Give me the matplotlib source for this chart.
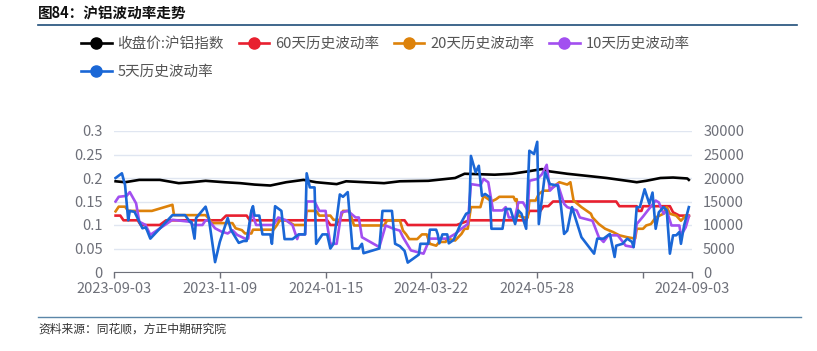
import matplotlib
matplotlib.use("Agg")
import matplotlib.pyplot as plt
from matplotlib.lines import Line2D
import pandas as pd

plt.rcParams['font.family'] = ['Noto Sans CJK SC', 'DejaVu Sans']

# 收盘价:沪铝指数 (right axis)
close_dates = ["2023-09-04", "2023-09-10", "2023-09-19", "2023-10-02", "2023-10-14", "2023-10-22",
               "2023-10-31", "2023-11-12", "2023-11-22", "2023-12-01", "2023-12-11", "2023-12-21",
               "2024-01-01", "2024-01-09", "2024-01-22", "2024-01-28", "2024-02-09", "2024-02-21",
               "2024-03-02", "2024-03-20", "2024-04-06", "2024-04-12", "2024-04-22", "2024-05-01",
               "2024-05-12", "2024-05-22", "2024-05-31", "2024-06-05", "2024-06-16", "2024-06-30",
               "2024-07-11", "2024-07-26", "2024-07-30", "2024-08-05", "2024-08-14", "2024-08-22",
               "2024-08-31", "2024-09-01"]
close_vals = [19300, 19100, 19600, 19600, 18900, 19100,
              19400, 19100, 18900, 18600, 18400, 19100,
              19600, 19100, 18700, 19300, 19100, 18900,
              19300, 19400, 20000, 20900, 20800, 20700,
              20900, 21400, 21900, 21400, 20900, 20400,
              20000, 19300, 19100, 19400, 20000, 20100,
              19900, 19600]

# 60天历史波动率
vol60_dates = ["2023-09-04", "2023-09-07", "2023-09-09", "2023-09-18", "2023-09-20", "2023-10-02",
               "2023-10-06", "2023-11-10", "2023-11-13", "2023-11-26", "2023-11-28", "2024-01-16",
               "2024-01-18", "2024-01-22", "2024-01-23", "2024-03-05", "2024-03-07", "2024-04-07",
               "2024-04-15", "2024-05-21", "2024-05-23", "2024-05-30", "2024-06-01", "2024-06-04",
               "2024-06-07", "2024-07-17", "2024-07-19", "2024-07-30", "2024-07-31", "2024-08-02",
               "2024-08-03", "2024-08-20", "2024-08-22", "2024-08-26", "2024-09-01"]
vol60_vals = [0.12, 0.12, 0.11, 0.11, 0.10, 0.10,
              0.11, 0.11, 0.12, 0.12, 0.11, 0.11,
              0.10, 0.10, 0.11, 0.11, 0.10, 0.10,
              0.11, 0.11, 0.13, 0.13, 0.14, 0.14,
              0.15, 0.15, 0.14, 0.14, 0.13, 0.13,
              0.14, 0.14, 0.127, 0.12, 0.12]

# 20天历史波动率
vol20_dates = ["2023-09-04", "2023-09-06", "2023-09-10", "2023-09-12", "2023-09-27", "2023-10-10",
               "2023-10-11", "2023-10-31", "2023-11-02", "2023-11-04", "2023-11-17", "2023-11-19",
               "2023-11-23", "2023-11-25", "2023-11-29", "2023-11-30", "2023-12-13", "2023-12-15",
               "2023-12-17", "2023-12-21", "2023-12-26", "2024-01-02", "2024-01-03", "2024-01-09",
               "2024-01-11", "2024-01-18", "2024-01-20", "2024-01-24", "2024-01-26", "2024-01-30",
               "2024-02-02", "2024-02-21", "2024-02-23", "2024-03-02", "2024-03-04", "2024-03-06",
               "2024-03-08", "2024-03-13", "2024-03-16", "2024-03-19", "2024-03-21", "2024-03-25",
               "2024-03-27", "2024-03-31", "2024-04-01", "2024-04-06", "2024-04-10", "2024-04-12",
               "2024-04-14", "2024-04-16", "2024-04-22", "2024-04-24", "2024-04-27", "2024-04-29",
               "2024-05-02", "2024-05-04", "2024-05-13", "2024-05-14", "2024-05-15", "2024-05-16",
               "2024-05-19", "2024-05-22", "2024-05-23", "2024-05-27", "2024-05-29", "2024-06-01",
               "2024-06-04", "2024-06-09", "2024-06-11", "2024-06-16", "2024-06-18", "2024-06-20",
               "2024-06-25", "2024-06-28", "2024-07-01", "2024-07-02", "2024-07-06", "2024-07-10",
               "2024-07-15", "2024-07-19", "2024-07-24", "2024-07-29", "2024-07-30", "2024-08-03",
               "2024-08-05", "2024-08-08", "2024-08-11", "2024-08-16", "2024-08-18", "2024-08-20",
               "2024-08-24", "2024-08-27", "2024-08-30", "2024-09-01"]
vol20_vals = [0.129, 0.139, 0.139, 0.13, 0.13, 0.143,
              0.121, 0.121, 0.114, 0.104, 0.104, 0.093,
              0.089, 0.082, 0.082, 0.09, 0.09, 0.099,
              0.11, 0.11, 0.10, 0.10, 0.13, 0.13,
              0.12, 0.12, 0.111, 0.111, 0.13, 0.13,
              0.099, 0.099, 0.11, 0.11, 0.088, 0.08,
              0.07, 0.07, 0.08, 0.08, 0.06, 0.056,
              0.064, 0.064, 0.071, 0.067, 0.081, 0.092,
              0.092, 0.138, 0.138, 0.162, 0.155, 0.15,
              0.155, 0.16, 0.16, 0.152, 0.155, 0.12,
              0.116, 0.116, 0.152, 0.152, 0.166, 0.173,
              0.173, 0.186, 0.191, 0.186, 0.191, 0.152,
              0.138, 0.131, 0.124, 0.116, 0.102, 0.092,
              0.085, 0.078, 0.074, 0.071, 0.092, 0.092,
              0.099, 0.102, 0.116, 0.124, 0.138, 0.124,
              0.12, 0.109, 0.12, 0.118]

# 10天历史波动率
vol10_dates = ["2023-09-04", "2023-09-06", "2023-09-11", "2023-09-13", "2023-09-17", "2023-09-19",
               "2023-09-23", "2023-09-26", "2023-10-10", "2023-10-21", "2023-10-23", "2023-10-29",
               "2023-10-31", "2023-11-02", "2023-11-06", "2023-11-10", "2023-11-14", "2023-11-17",
               "2023-11-20", "2023-11-25", "2023-11-27", "2023-11-29", "2023-12-02", "2023-12-13",
               "2023-12-16", "2023-12-21", "2023-12-25", "2023-12-28", "2023-12-29", "2024-01-02",
               "2024-01-03", "2024-01-08", "2024-01-11", "2024-01-15", "2024-01-16", "2024-01-18",
               "2024-01-22", "2024-01-25", "2024-01-29", "2024-02-03", "2024-02-05", "2024-02-07",
               "2024-02-18", "2024-02-22", "2024-02-27", "2024-03-02", "2024-03-04", "2024-03-09",
               "2024-03-17", "2024-03-21", "2024-04-01", "2024-04-06", "2024-04-10", "2024-04-14",
               "2024-04-16", "2024-04-22", "2024-04-24", "2024-04-27", "2024-04-30", "2024-05-06",
               "2024-05-08", "2024-05-10", "2024-05-14", "2024-05-16", "2024-05-19", "2024-05-22",
               "2024-05-23", "2024-05-28", "2024-05-31", "2024-06-03", "2024-06-05", "2024-06-07",
               "2024-06-10", "2024-06-14", "2024-06-16", "2024-06-22", "2024-06-24", "2024-07-02",
               "2024-07-06", "2024-07-09", "2024-07-12", "2024-07-18", "2024-07-23", "2024-07-28",
               "2024-07-30", "2024-08-03", "2024-08-06", "2024-08-11", "2024-08-13", "2024-08-16",
               "2024-08-18", "2024-08-21", "2024-08-26", "2024-08-27", "2024-08-30", "2024-09-01"]
vol10_vals = [0.15, 0.16, 0.162, 0.17, 0.146, 0.107,
              0.10, 0.079, 0.111, 0.107, 0.10, 0.10,
              0.11, 0.11, 0.093, 0.086, 0.082, 0.089,
              0.079, 0.071, 0.071, 0.129, 0.10, 0.10,
              0.116, 0.11, 0.10, 0.07, 0.08, 0.08,
              0.15, 0.15, 0.13, 0.13, 0.10, 0.06,
              0.06, 0.127, 0.13, 0.116, 0.116, 0.074,
              0.053, 0.099, 0.092, 0.088, 0.074, 0.046,
              0.039, 0.071, 0.071, 0.081, 0.092, 0.102,
              0.187, 0.184, 0.198, 0.191, 0.131, 0.131,
              0.138, 0.116, 0.116, 0.148, 0.148, 0.131,
              0.194, 0.198, 0.208, 0.228, 0.173, 0.18,
              0.187, 0.145, 0.138, 0.131, 0.116, 0.109,
              0.074, 0.064, 0.078, 0.078, 0.056, 0.053,
              0.102, 0.118, 0.131, 0.152, 0.148, 0.124,
              0.131, 0.099, 0.099, 0.078, 0.095, 0.118]

# 5天历史波动率
vol5_dates = ["2023-09-04", "2023-09-08", "2023-09-10", "2023-09-12", "2023-09-13", "2023-09-16",
              "2023-09-21", "2023-09-23", "2023-09-24", "2023-09-26", "2023-10-10", "2023-10-18",
              "2023-10-21", "2023-10-22", "2023-10-24", "2023-10-25", "2023-10-31", "2023-11-02",
              "2023-11-06", "2023-11-09", "2023-11-14", "2023-11-16", "2023-11-21", "2023-11-24",
              "2023-11-26", "2023-11-29", "2023-11-30", "2023-12-01", "2023-12-04", "2023-12-06",
              "2023-12-11", "2023-12-12", "2023-12-14", "2023-12-18", "2023-12-20", "2023-12-25",
              "2023-12-29", "2024-01-02", "2024-01-03", "2024-01-05", "2024-01-08", "2024-01-09",
              "2024-01-13", "2024-01-16", "2024-01-18", "2024-01-20", "2024-01-24", "2024-01-26",
              "2024-01-29", "2024-02-01", "2024-02-05", "2024-02-07", "2024-02-08", "2024-02-18",
              "2024-02-20", "2024-02-26", "2024-02-28", "2024-03-02", "2024-03-05", "2024-03-07",
              "2024-03-14", "2024-03-15", "2024-03-20", "2024-03-21", "2024-03-25", "2024-03-26",
              "2024-03-27", "2024-03-29", "2024-04-01", "2024-04-02", "2024-04-05", "2024-04-10",
              "2024-04-13", "2024-04-15", "2024-04-16", "2024-04-19", "2024-04-21", "2024-04-23",
              "2024-04-25", "2024-04-28", "2024-04-29", "2024-05-06", "2024-05-08", "2024-05-11",
              "2024-05-14", "2024-05-16", "2024-05-18", "2024-05-21", "2024-05-23", "2024-05-26",
              "2024-05-28", "2024-05-29", "2024-06-02", "2024-06-05", "2024-06-10", "2024-06-12",
              "2024-06-14", "2024-06-16", "2024-06-19", "2024-06-25", "2024-07-03", "2024-07-05",
              "2024-07-09", "2024-07-13", "2024-07-16", "2024-07-17", "2024-07-21", "2024-07-24",
              "2024-07-27", "2024-07-28", "2024-07-30", "2024-08-01", "2024-08-04", "2024-08-07",
              "2024-08-09", "2024-08-11", "2024-08-13", "2024-08-16", "2024-08-18", "2024-08-20",
              "2024-08-22", "2024-08-24", "2024-08-26", "2024-08-27", "2024-08-29", "2024-09-01"]
vol5_vals = [0.20, 0.21, 0.185, 0.11, 0.13, 0.128,
             0.093, 0.095, 0.088, 0.071, 0.121, 0.121,
             0.107, 0.107, 0.071, 0.115, 0.139, 0.115,
             0.021, 0.064, 0.115, 0.09, 0.062, 0.066,
             0.066, 0.131, 0.14, 0.12, 0.12, 0.08,
             0.08, 0.06, 0.14, 0.13, 0.07, 0.07,
             0.08, 0.08, 0.21, 0.18, 0.18, 0.06,
             0.08, 0.08, 0.05, 0.06, 0.165, 0.16,
             0.17, 0.05, 0.05, 0.06, 0.04, 0.05,
             0.13, 0.13, 0.06, 0.055, 0.045, 0.02,
             0.037, 0.06, 0.06, 0.09, 0.09, 0.08,
             0.061, 0.08, 0.08, 0.061, 0.068, 0.106,
             0.124, 0.127, 0.247, 0.212, 0.226, 0.162,
             0.166, 0.159, 0.092, 0.092, 0.134, 0.134,
             0.102, 0.131, 0.124, 0.092, 0.258, 0.251,
             0.277, 0.102, 0.212, 0.187, 0.184, 0.141,
             0.081, 0.088, 0.138, 0.074, 0.039, 0.071,
             0.071, 0.081, 0.032, 0.056, 0.06, 0.071,
             0.064, 0.053, 0.138, 0.138, 0.176, 0.145,
             0.169, 0.092, 0.127, 0.138, 0.131, 0.039,
             0.078, 0.078, 0.085, 0.06, 0.099, 0.138]

tick_dates = ["2023-09-03", "2023-11-09", "2024-01-15", "2024-03-22", "2024-05-28", "2024-08-03", "2024-09-03"]
tick_labels = ["2023-09-03", "2023-11-09", "2024-01-15", "2024-03-22", "2024-05-28", "", "2024-09-03"]

c_black, c_red, c_orange, c_purple, c_blue = "#000000", "#e8202f", "#dd820a", "#a24ff0", "#1a67d6"
grey = "#6e7079"
lw = 1.9

fig = plt.figure(figsize=(8.17, 3.51), dpi=100)
ax = fig.add_axes([114 / 817, 1 - 272 / 351, 578 / 817, 141 / 351])
ax2 = ax.twinx()
ax.set_zorder(ax2.get_zorder() + 1)
ax.patch.set_visible(False)

d = pd.to_datetime
ax2.plot(d(close_dates), close_vals, color=c_black, lw=lw)
ax.plot(d(vol60_dates), vol60_vals, color=c_red, lw=lw)
ax.plot(d(vol20_dates), vol20_vals, color=c_orange, lw=lw)
ax.plot(d(vol10_dates), vol10_vals, color=c_purple, lw=lw)
ax.plot(d(vol5_dates), vol5_vals, color=c_blue, lw=lw)

ax.set_xlim(d("2023-09-03"), d("2024-09-03"))
ax.set_ylim(0, 0.3)
ax2.set_ylim(0, 30000)
ax.set_yticks([0, 0.05, 0.1, 0.15, 0.2, 0.25, 0.3])
ax.set_yticklabels(["0", "0.05", "0.1", "0.15", "0.2", "0.25", "0.3"])
ax2.set_yticks(range(0, 30001, 5000))
ax2.yaxis.grid(True, color="#e0e6f1", lw=1)
ax2.set_axisbelow(True)

ax.set_xticks(d(tick_dates))
ax.set_xticklabels(tick_labels)

for a in (ax, ax2):
    for s in a.spines.values():
        s.set_visible(False)
ax.spines["bottom"].set_visible(True)
ax.spines["bottom"].set_color(grey)
ax.tick_params(axis="x", colors=grey, labelcolor=grey, length=4, width=1, pad=3, labelsize=10.5)
ax.tick_params(axis="y", length=0, pad=8, labelcolor=grey, labelsize=10.5)
ax2.tick_params(axis="y", length=0, pad=8, labelcolor=grey, labelsize=10.5)

# legend
names = ["收盘价:沪铝指数", "60天历史波动率", "20天历史波动率", "10天历史波动率", "5天历史波动率"]
colors = [c_black, c_red, c_orange, c_purple, c_blue]
handles = [Line2D([], [], color=c, lw=lw, marker="o", markersize=8) for c in colors]
order = [0, 4, 1, 2, 3]
fig.legend([handles[i] for i in order], [names[i] for i in order], ncol=4,
           loc="upper left", bbox_to_anchor=(81 / 817, 1 - 37 / 351), frameon=False,
           fontsize=10.5, labelcolor="#555555", handlelength=2.1, handletextpad=0.4,
           columnspacing=1.0, labelspacing=0.95, borderpad=0, borderaxespad=0)

# header / footer
fig.text(38 / 817, 1 - 14 / 351, "图84：沪铝波动率走势", fontsize=10.5, fontweight="bold",
         va="center", ha="left", color="#111111")
fig.add_artist(Line2D([38 / 817, 797 / 817], [1 - 24.5 / 351] * 2, color="#1f4e79", lw=1.2))
fig.add_artist(Line2D([38 / 817, 801 / 817], [1 - 317 / 351] * 2, color="#5b86a8", lw=1.0))
fig.text(38 / 817, 1 - 329 / 351, "资料来源：同花顺，方正中期研究院", fontsize=8.5,
         va="center", ha="left", color="#333333", style="italic")

fig.savefig("out.png", dpi=100)
